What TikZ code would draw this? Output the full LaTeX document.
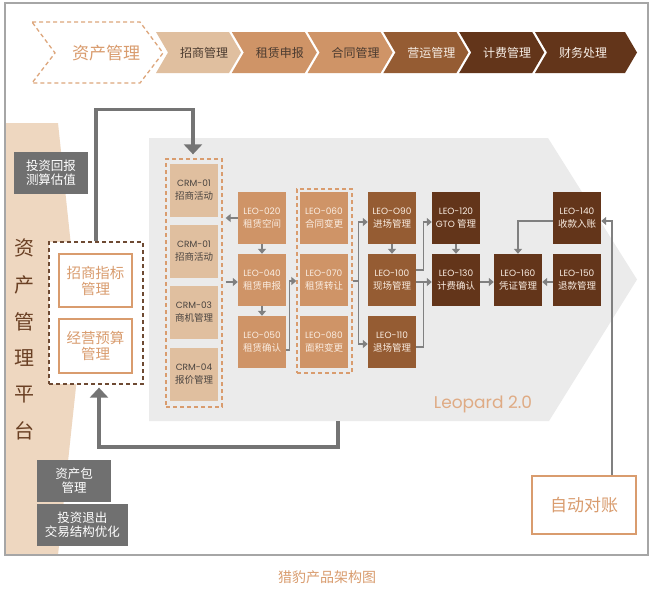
\documentclass[tikz,border=0pt]{standalone}
\usepackage{fontspec}
\setmainfont{Noto Sans CJK SC}
\newfontfamily\pop{Poppins}
\usetikzlibrary{arrows.meta,calc}
\definecolor{framec}{HTML}{A6A6A6}
\definecolor{beige}{HTML}{EED7C0}
\definecolor{lighttan}{HTML}{E0BF9F}
\definecolor{tanc}{HTML}{CF9467}
\definecolor{midbrown}{HTML}{955C33}
\definecolor{darkbrown}{HTML}{63351A}
\definecolor{bggray}{HTML}{EBEBEB}
\definecolor{thickc}{HTML}{747474}
\definecolor{connc}{HTML}{808080}
\definecolor{tantext}{HTML}{D99C6E}
\definecolor{dashbrown}{HTML}{6E4A33}
\definecolor{grayboxc}{HTML}{707070}
\definecolor{hdark}{HTML}{4B3B30}
\definecolor{hlight}{HTML}{F7EEE6}
\definecolor{leotext}{HTML}{FAEDE2}
\definecolor{titlec}{HTML}{6A4024}
\definecolor{crmtext}{HTML}{4A4440}
\tikzset{
  box/.style={rectangle, inner sep=0pt, align=center},
  leo/.style={box, minimum width=48pt, minimum height=52pt, text=leotext, font=\fontsize{9.5}{13.5}\selectfont},
  crm/.style={box, minimum width=48pt, minimum height=53pt, fill=lighttan, text=crmtext, font=\fontsize{9.5}{13.5}\selectfont},
  graybox/.style={box, fill=grayboxc, text=white, font=\fontsize{12.5}{14}\selectfont},
  whitebox/.style={box, fill=white, draw=tantext, line width=2pt, text=tantext, font=\fontsize{14.5}{16}\selectfont},
  conn/.style={draw=connc, line width=1.3pt, -{Triangle[width=8pt,length=5pt]}},
  thinline/.style={draw=connc, line width=1.3pt},
  bigarrow/.style={draw=thickc, line width=3.3pt, -{Triangle[width=18pt,length=10pt]}},
  grp/.style={rectangle, inner sep=0pt, dashed, dash pattern=on 4pt off 3pt, line width=1.3pt},
  hdr/.style={font=\fontsize{12}{14}\selectfont},
  vt/.style={text=titlec, font=\fontsize{20}{20}\selectfont}
}
\newcommand{\cd}[1]{{\pop\fontsize{9}{13.5}\selectfont #1}}
\begin{document}
\begin{tikzpicture}[x=1pt,y=-1pt]
\useasboundingbox (0,0) rectangle (654,590);
\fill[white] (0,0) rectangle (654,590);
% beige band
\fill[beige] (5,123) -- (58,123) -- (81,340) -- (58,555) -- (5,555) -- cycle;
% gray big chevron
\fill[bggray] (149,138) -- (548,138) -- (637,279.5) -- (549,421) -- (149,421) -- cycle;
\coordinate (gb) at (338,421);
% frame
\draw[framec, line width=1.5pt] (5,3) rectangle (648,555);
% header
\draw[tantext!90, line width=1.3pt, dash pattern=on 4pt off 3pt] (32,22) -- (140,22) -- (163,53) -- (140,83) -- (32,83) -- (55,53) -- cycle;
\node[text=tantext, font=\fontsize{17}{17}\selectfont] (h0) at (106,53) {资产管理};
\foreach \i/\t/\c/\tc in {0/招商管理/lighttan/hdark, 1/租赁申报/tanc/hdark, 2/合同管理/tanc/hdark, 3/营运管理/midbrown/hlight, 4/计费管理/darkbrown/hlight}{
  \pgfmathsetmacro\xo{156+75.8*\i}
  \fill[\c] (\xo,32) -- ++(73,0) -- ++(12,20.5) -- ++(-12,20.5) -- ++(-73,0) -- ++(12,-20.5) -- cycle;
  \node[hdr, text=\tc] at (\xo+48,52.5) {\t};
}
\fill[darkbrown] (535,32) -- (625,32) -- (637,52.5) -- (625,73) -- (535,73) -- (547,52.5) -- cycle;
\node[hdr, text=hlight] (h6) at (583,52.5) {财务处理};
% left title
\foreach \ch/\yy in {资/248, 产/285, 管/322, 理/358, 平/395, 台/431}{
  \node[vt] at (24,\yy) {\ch};
}
% gray boxes
\node[graybox, minimum width=74pt, minimum height=42pt] (g1) at (51,173) {投资回报\\测算估值};
\node[graybox, minimum width=74pt, minimum height=42pt] (g2) at (74,481) {资产包\\管理};
\node[graybox, minimum width=91pt, minimum height=42pt] (g3) at (82.5,525) {投资退出\\交易结构优化};
% left dashed group
\node[grp, draw=dashbrown, fill=white, minimum width=94pt, minimum height=142pt] (lbox) at (96,313) {};
\node[whitebox, minimum width=73pt, minimum height=53pt] (w1) at (95.5,280.5) {招商指标\\管理};
\node[whitebox, minimum width=73pt, minimum height=54pt] (w2) at (95.5,346) {经营预算\\管理};
% auto box
\node[whitebox, minimum width=104pt, minimum height=58pt, font=\fontsize{17}{17}\selectfont] (auto) at (584,505) {自动对账};
% Leopard
\node[text=tantext!85, font=\pop\fontsize{17}{17}\selectfont] (leop) at (483,404) {Leopard 2.0};
% CRM group
\node[grp, draw=tantext, minimum width=56pt, minimum height=248pt] (crmg) at (194,283) {};
\node[crm] (c1) at (194,190) {\cd{CRM-01}\\招商活动};
\node[crm] (c2) at (194,251) {\cd{CRM-01}\\招商活动};
\node[crm] (c3) at (194,312) {\cd{CRM-03}\\商机管理};
\node[crm] (c4) at (194,374) {\cd{CRM-04}\\报价管理};
% LEO group 060-080
\node[grp, draw=tantext, minimum width=55pt, minimum height=184pt] (lg) at (324.5,281) {};
% LEO boxes
\node[leo, fill=tanc] (l020) at (262,218) {\cd{LEO-020}\\租赁空间};
\node[leo, fill=tanc] (l040) at (262,280) {\cd{LEO-040}\\租赁申报};
\node[leo, fill=tanc] (l050) at (262,342) {\cd{LEO-050}\\租赁确认};
\node[leo, fill=tanc] (l060) at (324,218) {\cd{LEO-060}\\合同变更};
\node[leo, fill=tanc] (l070) at (324,280) {\cd{LEO-070}\\租赁转让};
\node[leo, fill=tanc] (l080) at (324,342) {\cd{LEO-080}\\面积变更};
\node[leo, fill=midbrown] (l090) at (392,218) {\cd{LEO-O90}\\进场管理};
\node[leo, fill=midbrown] (l100) at (392,280) {\cd{LEO-100}\\现场管理};
\node[leo, fill=midbrown] (l110) at (392,342) {\cd{LEO-110}\\退场管理};
\node[leo, fill=darkbrown] (l120) at (456,218) {\cd{LEO-120}\\\cd{GTO} 管理};
\node[leo, fill=darkbrown] (l130) at (456,280) {\cd{LEO-130}\\计费确认};
\node[leo, fill=darkbrown] (l160) at (518,280) {\cd{LEO-160}\\凭证管理};
\node[leo, fill=darkbrown] (l140) at (577,218) {\cd{LEO-140}\\收款入账};
\node[leo, fill=darkbrown] (l150) at (577,280) {\cd{LEO-150}\\退款管理};
% caption
\node[text=tantext, font=\fontsize{14}{14}\selectfont] (cap) at (327,577) {猎豹产品架构图};
% thin connectors
\draw[conn, shorten >=3pt] (l020.west) -- (l020.west -| crmg.east);
\draw[conn, shorten <=3pt] ($(l040.west -| crmg.east)+(0,2)$) -- ($(l040.west)+(0,2)$);
\draw[conn] (l020.south) -- (l040.north);
\draw[conn] (l040.south) -- (l050.north);
\draw[conn] ($(l050.east)+(0,8)$) -- ++(3,0) |- (lg.west);
\draw[conn] (lg.east) -- ++(6,0) |- ($(l090.west)+(0,4)$);
\draw[conn] ($(lg.east)+(6,0)$) |- ($(l110.west)+(0,2)$);
\draw[conn] (l090.south) -- (l100.north);
\draw[conn] ($(l100.east)+(0,-10)$) -- ++(7,0) |- ($(l120.west)+(0,4)$);
\draw[conn] ($(l100.east)+(0,2)$) -- ($(l130.west)+(0,2)$);
\draw[thinline] ($(l110.east)+(0,5)$) -| ($(l100.east)+(7,2)$);
\draw[conn] (l120.south) -- (l130.north);
\draw[conn] ($(l130.east)+(0,2)$) -- ($(l160.west)+(0,2)$);
\draw[conn] ($(l150.west)+(0,2)$) -- ($(l160.east)+(0,2)$);
\draw[conn] ($(l140.west)+(0,3)$) -| (l160.north);
\draw[conn] ($(auto.north)+(28,0)$) |- ($(l140.east)+(0,3)$);
% big arrows
\draw[bigarrow] (lbox.north) -- ++(0,-132) -| ($(crmg.north)+(-1,-4)$);
\draw[bigarrow] (gb) -- ++(0,26) -| ($(lbox.south)+(3,3)$);
\end{tikzpicture}
\end{document}
